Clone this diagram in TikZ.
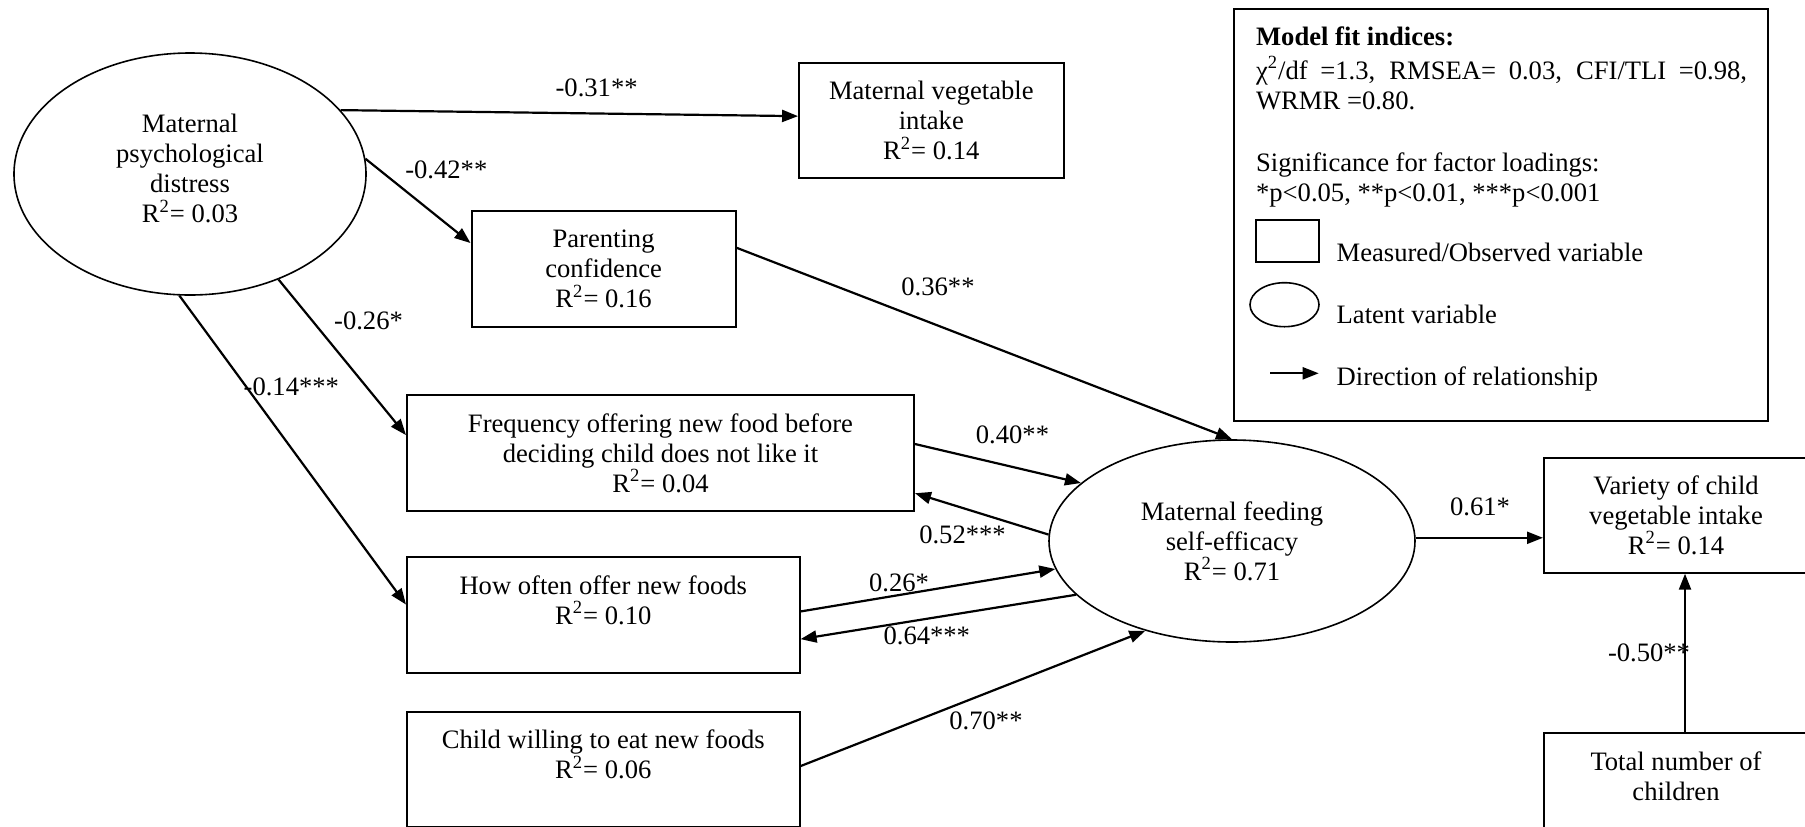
\documentclass[tikz,border=0pt]{standalone}
\usepackage{fontspec}
\setmainfont{Liberation Serif}
\usetikzlibrary{shapes.geometric,arrows.meta}

\tikzset{
  txt/.style={font=\fontsize{13.3}{15}\selectfont, align=center},
  obs/.style={draw, line width=1pt, rectangle, inner sep=0pt, txt},
  lat/.style={draw, line width=0.8pt, ellipse, inner sep=0pt, txt},
  arr/.style={-{Triangle[length=8pt,width=6pt]}, line width=1.1pt},
  coef/.style={font=\fontsize{13.3}{15}\selectfont, inner sep=0pt},
  legtxt/.style={font=\fontsize{13.3}{15}\selectfont, inner sep=0pt, anchor=base west},
}
\newcommand{\Rsq}[1]{R\textsuperscript{2}= #1}

\begin{document}
\begin{tikzpicture}[x=0.5pt, y=-0.5pt]
  \useasboundingbox (0,0) rectangle (1805,826);
  \fill[white] (0,0) rectangle (1805,826);
  \clip (0,0) rectangle (1805,826);

  % latent variables
  \node[lat, minimum width=176pt, minimum height=121pt] (mpd) at (190,174) {};
  \node[txt, inner sep=0pt] (mpdt) at (190,168.5) {Maternal\\ psychological\\ distress\\ \Rsq{0.03}};
  \node[lat, minimum width=183pt, minimum height=101pt] (mfse) at (1232,541)
    {Maternal feeding\\ self-efficacy\\ \Rsq{0.71}};

  % observed variables
  \node[obs, minimum width=132.25pt, minimum height=57.5pt] (mvi) at (931.3,120.8)
    {Maternal vegetable\\ intake\\ \Rsq{0.14}};
  \node[obs, minimum width=132.1pt, minimum height=57.85pt] (pc) at (603.6,268.9)
    {Parenting\\ confidence\\ \Rsq{0.16}};
  \node[obs, minimum width=253.5pt, minimum height=57.85pt] (freq) at (660.5,452.9)
    {Frequency offering new food before\\ deciding child does not like it\\ \Rsq{0.04}};
  \node[obs, minimum width=196.3pt, minimum height=57.85pt] (how) at (603.3,614.9)
    {How often offer new foods\\ \Rsq{0.10}\\ \mbox{}};
  \node[obs, minimum width=196.3pt, minimum height=57.85pt] (child) at (603.3,769.5)
    {Child willing to eat new foods\\ \Rsq{0.06}\\ \mbox{}};
  \node[obs, minimum width=132pt, minimum height=57.5pt] (var) at (1676,515.2)
    {Variety of child\\ vegetable intake\\ \Rsq{0.14}};
  \node[obs, minimum width=132pt, minimum height=57.85pt] (tot) at (1676,790.9)
    {Total number of\\ children\\ \mbox{}};

  % paths
  \draw[arr] (mpd.23.4) -- (mvi.178.9);
  \draw[arr] (mpd.5.5) -- (pc.169.3);
  \draw[arr] (mpd.-50.4) -- (freq.176);
  \draw[arr] (mpd.-95.5) -- (how.177.1);
  \draw[arr] (pc.9.5) -- (mfse.north);
  \draw[arr] (freq.2.9) -- (mfse.159.4);
  \draw[arr] (mfse.178.1) -- (freq.-9.4);
  \draw[arr] (how.1.4) -- (mfse.189.9);
  \draw[arr] (mfse.199.6) -- (how.-7.5);
  \draw[arr] (child.1.3) -- (mfse.226.3);
  \draw[arr] (mfse.1.7) -- (mfse.1.7 -| var.west);
  \draw[arr] ([xshift=4.5pt]tot.north) -- ([xshift=4.5pt]var.south);

  % coefficients
  \node[coef] (c1) at (596.6,88.3) {-0.31**};
  \node[coef] (c2) at (446.3,170) {-0.42**};
  \node[coef] (c3) at (368.5,321) {-0.26*};
  \node[coef] (c4) at (291.3,386.7) {-0.14***};
  \node[coef] (c5) at (938,286.7) {0.36**};
  \node[coef] (c6) at (1012.5,435) {0.40**};
  \node[coef] (c7) at (962.5,535) {0.52***};
  \node[coef] (c8) at (899,583) {0.26*};
  \node[coef] (c9) at (926.8,636) {0.64***};
  \node[coef] (c10) at (986,720.7) {0.70**};
  \node[coef] (c11) at (1480,507) {0.61*};
  \node[coef] (c12) at (1649,653) {-0.50**};

  % legend
  \node[draw, line width=1pt, minimum width=266.8pt, minimum height=205.7pt, inner sep=0pt] (leg) at (1501.2,215) {};
  \node[legtxt] (l1) at (1255.7,45.7) {\textbf{Model fit indices:}};
  \node[legtxt] (l2) at (1255.7,79) {\makebox[245.5pt][s]{χ\textsuperscript{2}/df =1.3, RMSEA= 0.03, CFI/TLI =0.98,}};
  \node[legtxt] (l3) at (1255.7,109) {WRMR =0.80.};
  \node[legtxt] (l4) at (1255.7,171.7) {Significance for factor loadings:};
  \node[legtxt] (l5) at (1255.7,201.7) {*p<0.05, **p<0.01, ***p<0.001};
  \node[draw, line width=1pt, minimum width=31.5pt, minimum height=21.15pt, inner sep=0pt] (lbox) at (1287.2,241.2) {};
  \node[legtxt] (l6) at (1336.3,261.3) {Measured/Observed variable};
  \node[draw, line width=0.8pt, ellipse, minimum width=34.5pt, minimum height=22pt, inner sep=0pt] (lell) at (1284.5,304.7) {};
  \node[legtxt] (l7) at (1336.3,323) {Latent variable};
  \coordinate (la1) at (1270,373.3);
  \coordinate (la2) at (1318.7,373.3);
  \draw[arr] (la1) -- (la2);
  \node[legtxt] (l8) at (1336.3,385) {Direction of relationship};
\end{tikzpicture}
\end{document}
